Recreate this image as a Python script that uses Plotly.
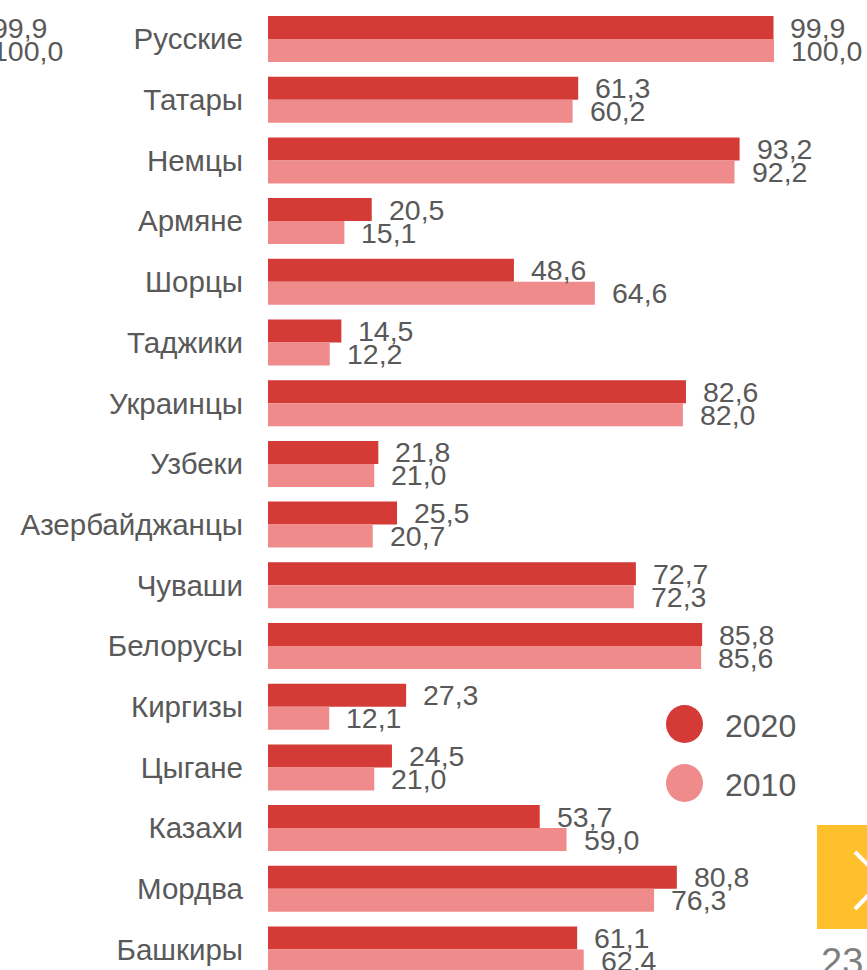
import plotly.graph_objects as go

# Data: share of each nationality (%), 2020 vs 2010
categories = ["Русские", "Татары", "Немцы", "Армяне", "Шорцы", "Таджики",
              "Украинцы", "Узбеки", "Азербайджанцы", "Чуваши", "Белорусы",
              "Киргизы", "Цыгане", "Казахи", "Мордва", "Башкиры"]
values_2020 = [99.9, 61.3, 93.2, 20.5, 48.6, 14.5, 82.6, 21.8, 25.5, 72.7,
               85.8, 27.3, 24.5, 53.7, 80.8, 61.1]
values_2010 = [100.0, 60.2, 92.2, 15.1, 64.6, 12.2, 82.0, 21.0, 20.7, 72.3,
               85.6, 12.1, 21.0, 59.0, 76.3, 62.4]
series_names = ["2020", "2010"]
side_labels = ["99,9", "100,0"]
page_number = "23"

W, H = 867, 970
ML, MR, MT, MB = 268, 0, 0, 0
PW, PH = W - ML - MR, H - MT - MB

C2020 = "rgb(212,58,54)"
C2010 = "rgb(240,139,139)"
TXT = "#595959"
FONT = "Arial, Liberation Sans, sans-serif"

PX_PER_UNIT = 5.06
ROW_PX = 60.7
FIRST_ROW_PX = 39.0
BARGAP = 0.242


def px_x(px):
    return (px - ML) / PW


def px_y(py):
    return 1 - (py - MT) / PH


def fmt(v):
    return f"{v:.1f}".replace(".", ",")


idx = list(range(len(categories)))

fig = go.Figure()
fig.add_trace(go.Bar(y=idx, x=values_2020, orientation="h", name=series_names[0],
                     marker=dict(color=C2020, line=dict(width=0))))
fig.add_trace(go.Bar(y=idx, x=values_2010, orientation="h", name=series_names[1],
                     marker=dict(color=C2010, line=dict(width=0))))

annotations = []
half = (1 - BARGAP) / 4
for i in idx:
    for v, dy in ((values_2020[i], -half), (values_2010[i], half)):
        annotations.append(dict(x=v, y=i + dy, xref="x", yref="y", text=fmt(v),
                                showarrow=False, xanchor="left", yanchor="middle",
                                xshift=15, font=dict(family=FONT, size=28.5, color=TXT)))

# value labels of the neighbouring panel, cut by the left edge
annotations.append(dict(x=px_x(-10), y=px_y(28), xref="paper", yref="paper",
                        text=side_labels[0], showarrow=False, xanchor="left",
                        yanchor="middle", font=dict(family=FONT, size=28.5, color=TXT)))
annotations.append(dict(x=px_x(-10), y=px_y(51), xref="paper", yref="paper",
                        text=side_labels[1], showarrow=False, xanchor="left",
                        yanchor="middle", font=dict(family=FONT, size=28.5, color=TXT)))

# legend
shapes = []
for name, col, cy in ((series_names[0], C2020, 724), (series_names[1], C2010, 783)):
    shapes.append(dict(type="circle", xref="paper", yref="paper",
                       x0=px_x(666), x1=px_x(703), y0=px_y(cy - 19), y1=px_y(cy + 19),
                       fillcolor=col, line=dict(width=0)))
    annotations.append(dict(x=px_x(723), y=px_y(cy + 2), xref="paper", yref="paper",
                            text=name, showarrow=False, xanchor="left", yanchor="middle",
                            font=dict(family=FONT, size=32, color=TXT)))

# navigation button and page number
shapes.append(dict(type="rect", xref="paper", yref="paper",
                   x0=px_x(817), x1=px_x(900), y0=px_y(929), y1=px_y(825),
                   fillcolor="#FFC02B", line=dict(width=0)))
shapes.append(dict(type="path", xref="paper", yref="paper",
                   path=f"M {px_x(855)} {px_y(852)} L {px_x(883)} {px_y(880)} L {px_x(855)} {px_y(909)}",
                   line=dict(color="white", width=4)))
annotations.append(dict(x=px_x(819), y=px_y(939), xref="paper", yref="paper",
                        text=page_number, showarrow=False, xanchor="left", yanchor="top",
                        font=dict(family=FONT, size=38, color="#7f7f7f")))

y_top = -FIRST_ROW_PX / ROW_PX
y_bot = (PH - FIRST_ROW_PX) / ROW_PX

fig.update_layout(
    width=W, height=H,
    margin=dict(l=ML, r=MR, t=MT, b=MB),
    paper_bgcolor="white", plot_bgcolor="white",
    barmode="group", bargap=BARGAP, bargroupgap=0,
    showlegend=False,
    xaxis=dict(range=[0, PW / PX_PER_UNIT], visible=False, fixedrange=True),
    yaxis=dict(range=[y_bot, y_top], tickmode="array", tickvals=idx, ticktext=categories,
               showgrid=False, zeroline=False, showline=False, ticks="",
               ticklabelstandoff=24,
               tickfont=dict(family=FONT, size=29.5, color=TXT)),
    annotations=annotations,
    shapes=shapes,
)

fig.write_html("out.html")
